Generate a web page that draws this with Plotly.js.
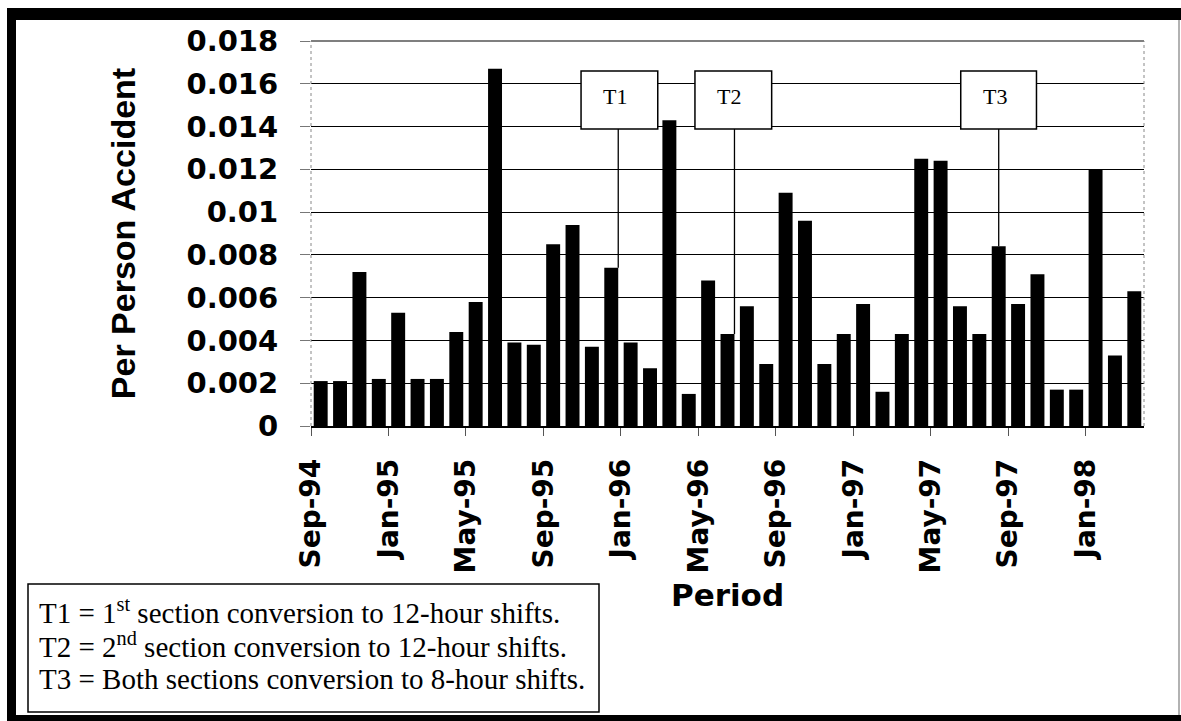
<!DOCTYPE html>
<html>
<head>
<meta charset="utf-8">
<script src="https://cdn.plot.ly/plotly-3.0.1.min.js"></script>
<style>
html,body{margin:0;padding:0;background:#fff;}
#chart{width:1181px;height:721px;}
</style>
</head>
<body>
<div id="chart"></div>
<script>
// ---------------- data ----------------
const months = ['Sep-94','Oct-94','Nov-94','Dec-94',
  'Jan-95','Feb-95','Mar-95','Apr-95','May-95','Jun-95','Jul-95','Aug-95','Sep-95','Oct-95','Nov-95','Dec-95',
  'Jan-96','Feb-96','Mar-96','Apr-96','May-96','Jun-96','Jul-96','Aug-96','Sep-96','Oct-96','Nov-96','Dec-96',
  'Jan-97','Feb-97','Mar-97','Apr-97','May-97','Jun-97','Jul-97','Aug-97','Sep-97','Oct-97','Nov-97','Dec-97',
  'Jan-98','Feb-98','Mar-98'];

const perPersonAccident = [0.0021,0.0021,0.0072,0.0022,
  0.0053,0.0022,0.0022,0.0044,0.0058,0.0167,0.0039,0.0038,0.0085,0.0094,0.0037,0.0074,
  0.0039,0.0027,0.0143,0.0015,0.0068,0.0043,0.0056,0.0029,0.0109,0.0096,0.0029,0.0043,
  0.0057,0.0016,0.0043,0.0125,0.0124,0.0056,0.0043,0.0084,0.0057,0.0071,0.0017,0.0017,
  0.0120,0.0033,0.0063];

const xTickLabels = ['Sep-94','Jan-95','May-95','Sep-95','Jan-96','May-96','Sep-96','Jan-97','May-97','Sep-97','Jan-98'];
const yTickValues = [0,0.002,0.004,0.006,0.008,0.01,0.012,0.014,0.016,0.018];
const yTickLabels = ['0','0.002','0.004','0.006','0.008','0.01','0.012','0.014','0.016','0.018'];

const eventLabels = ['T1','T2','T3'];
const eventMonths = ['Dec-95','Jun-96','Aug-97'];
const legendLines = [
  'T1 = 1<sup>st</sup> section conversion to 12-hour shifts.',
  'T2 = 2<sup>nd</sup> section conversion to 12-hour shifts.',
  'T3 = Both sections conversion to 8-hour shifts.'
];

// ---------------- layout helpers ----------------
const W = 1181, H = 721;
const L = 311, R = 1144, T = 41, B = 426;
const px2x = px => (px - L) / (R - L);
const py2y = py => (B - py) / (B - T);

const xIdx = months.map((m, i) => i);
const xTickVals = xTickLabels.map(lab => months.indexOf(lab) - 0.5);

// event box geometry (x in category units, y in data units)
const eventBoxGeom = [
  {x0: 13.44, x1: 17.40, lx: 15.36},
  {x0: 19.32, x1: 23.28, lx: 21.36},
  {x0: 33.04, x1: 36.95, lx: 35.00}
];
const boxTop = 0.01660, boxBottom = 0.01389;
const legendLineCentersPx = [611, 645, 679];

const shapes = [];
const annotations = [];

// plot-area border pieces
shapes.push({type:'line', xref:'paper', yref:'paper', x0:0, x1:1, y0:1, y1:1, line:{color:'#000', width:1.2}, layer:'above'});
shapes.push({type:'line', xref:'paper', yref:'paper', x0:0, x1:0, y0:0, y1:1, line:{color:'#888', width:1, dash:'dot'}, layer:'above'});
shapes.push({type:'line', xref:'paper', yref:'paper', x0:1, x1:1, y0:0, y1:1, line:{color:'#888', width:1, dash:'dot'}, layer:'above'});

// event boxes and connector lines
eventLabels.forEach((lab, k) => {
  const g = eventBoxGeom[k];
  const idx = months.indexOf(eventMonths[k]);
  shapes.push({type:'line', xref:'x', yref:'y', x0:g.lx, x1:g.lx, y0:boxBottom, y1:perPersonAccident[idx],
    line:{color:'#000', width:1.3}, layer:'above'});
  shapes.push({type:'rect', xref:'x', yref:'y', x0:g.x0, x1:g.x1, y0:boxBottom, y1:boxTop,
    fillcolor:'#fff', line:{color:'#000', width:1.5}, layer:'above'});
  annotations.push({xref:'x', yref:'y', x:g.x0, y:(boxTop + boxBottom) / 2, xanchor:'left', yanchor:'middle',
    xshift:20, yshift:3, showarrow:false, text:lab,
    font:{family:'Liberation Serif, Times New Roman, serif', size:22, color:'#000'}});
});

// legend (explanation) box
shapes.push({type:'rect', xref:'paper', yref:'paper', x0:px2x(28), x1:px2x(599), y0:py2y(712), y1:py2y(584),
  fillcolor:'rgba(0,0,0,0)', line:{color:'#000', width:1.5}, layer:'above'});
legendLines.forEach((line, k) => {
  annotations.push({xref:'paper', yref:'paper', x:px2x(38), y:py2y(legendLineCentersPx[k]), xanchor:'left', yanchor:'middle',
    align:'left', showarrow:false, borderpad:0, text:line,
    font:{family:'Liberation Serif, Times New Roman, serif', size:29, color:'#000'}});
});

// outer frame
shapes.push({type:'rect', xref:'paper', yref:'paper', x0:px2x(7), x1:px2x(16), y0:py2y(721), y1:py2y(8),
  fillcolor:'#000', line:{width:0}, layer:'above'});
shapes.push({type:'rect', xref:'paper', yref:'paper', x0:px2x(7), x1:px2x(1181), y0:py2y(20), y1:py2y(8),
  fillcolor:'#000', line:{width:0}, layer:'above'});
shapes.push({type:'rect', xref:'paper', yref:'paper', x0:px2x(7), x1:px2x(1181), y0:py2y(721), y1:py2y(715),
  fillcolor:'#000', line:{width:0}, layer:'above'});
shapes.push({type:'line', xref:'paper', yref:'paper', x0:px2x(1179), x1:px2x(1179), y0:py2y(715), y1:py2y(20),
  line:{color:'#999', width:1.5}, layer:'above'});

const trace = {
  type:'bar',
  x: xIdx,
  y: perPersonAccident,
  hoverinfo:'none',
  marker:{color:'#000', line:{width:0}},
  width:0.72
};

const layout = {
  width:W, height:H,
  margin:{l:L, r:W-R, t:T, b:H-B, pad:0},
  paper_bgcolor:'#fff', plot_bgcolor:'#fff',
  showlegend:false,
  xaxis:{
    range:[-0.5, months.length - 0.5],
    tickmode:'array', tickvals:xTickVals, ticktext:xTickLabels,
    tickangle:-90,
    ticks:'outside', ticklen:8, tickcolor:'#555', tickwidth:1,
    ticklabelstandoff:12,
    showgrid:false, zeroline:false,
    showline:true, linecolor:'#000', linewidth:1.5,
    tickfont:{family:'DejaVu Sans, Arial, sans-serif', size:28, weight:'bold', color:'#000'},
    title:{text:'Period', standoff:12,
      font:{family:'DejaVu Sans, Arial, sans-serif', size:31, weight:'bold', color:'#000'}},
    automargin:false, fixedrange:true
  },
  yaxis:{
    range:[0, 0.018],
    tickmode:'array', tickvals:yTickValues, ticktext:yTickLabels,
    ticks:'outside', ticklen:10, tickcolor:'#777', tickwidth:1,
    ticklabelstandoff:16,
    showgrid:true, gridcolor:'#000', gridwidth:1,
    zeroline:false, showline:false,
    tickfont:{family:'DejaVu Sans, Arial, sans-serif', size:29, weight:'bold', color:'#000'},
    title:{text:'Per Person Accident', standoff:40,
      font:{family:'Liberation Sans, Arial, sans-serif', size:34, weight:'bold', color:'#000'}},
    automargin:false, fixedrange:true
  },
  shapes:shapes,
  annotations:annotations
};

Plotly.newPlot('chart', [trace], layout, {displayModeBar:false, staticPlot:true});
</script>
</body>
</html>
